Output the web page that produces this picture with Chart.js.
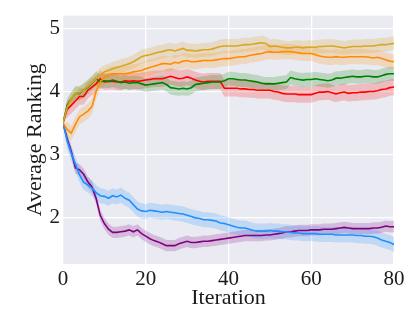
<!DOCTYPE html>
<html>
<head>
<meta charset="utf-8">
<script src="https://cdn.jsdelivr.net/npm/chart.js@4.4.0/dist/chart.umd.min.js"></script>
<style>
  body { margin: 0; background: #fff; }
</style>
</head>
<body>
<canvas id="rankChart" width="415" height="312"></canvas>
<script>
// iteration index 0..80
var iterations = [];
for (var i = 0; i <= 80; i++) iterations.push(i);

var xTicks = [0, 20, 40, 60, 80];
var yTicks = [2, 3, 4, 5];

// mean ranking per method
var goldLine = [3.50, 3.75, 3.88, 3.97, 3.98, 4.02, 4.08, 4.14, 4.20, 4.26, 4.31, 4.33, 4.36, 4.38, 4.40, 4.42, 4.44, 4.47, 4.51, 4.55,
    4.57, 4.58, 4.60, 4.62, 4.63, 4.65, 4.66, 4.64, 4.66, 4.68, 4.65, 4.65, 4.64, 4.65, 4.66, 4.66, 4.67, 4.69, 4.71, 4.72,
    4.72, 4.72, 4.72, 4.73, 4.74, 4.74, 4.75, 4.76, 4.77, 4.76, 4.71, 4.72, 4.71, 4.70, 4.69, 4.69, 4.70, 4.70, 4.69, 4.70,
    4.70, 4.70, 4.71, 4.71, 4.72, 4.72, 4.71, 4.70, 4.69, 4.70, 4.71, 4.71, 4.71, 4.72, 4.72, 4.72, 4.73, 4.74, 4.74, 4.75, 4.76];
var orangeLine = [3.50, 3.40, 3.34, 3.48, 3.60, 3.64, 3.69, 3.76, 4.00, 4.15, 4.22, 4.26, 4.28, 4.28, 4.28, 4.28, 4.29, 4.31, 4.32, 4.33,
    4.36, 4.38, 4.40, 4.42, 4.44, 4.44, 4.43, 4.46, 4.45, 4.48, 4.49, 4.47, 4.47, 4.48, 4.49, 4.49, 4.49, 4.50, 4.51, 4.52,
    4.52, 4.53, 4.54, 4.55, 4.55, 4.57, 4.58, 4.59, 4.60, 4.62, 4.63, 4.62, 4.62, 4.63, 4.63, 4.63, 4.62, 4.61, 4.60, 4.60,
    4.60, 4.58, 4.56, 4.55, 4.54, 4.54, 4.55, 4.54, 4.54, 4.55, 4.55, 4.55, 4.55, 4.55, 4.54, 4.53, 4.54, 4.52, 4.50, 4.48, 4.47];
var greenLine = [3.50, 3.78, 3.88, 3.97, 3.97, 4.02, 4.07, 4.13, 4.20, 4.15, 4.17, 4.16, 4.18, 4.16, 4.14, 4.15, 4.13, 4.14, 4.14, 4.12,
    4.10, 4.11, 4.12, 4.13, 4.14, 4.11, 4.06, 4.05, 4.04, 4.05, 4.04, 4.06, 4.11, 4.12, 4.13, 4.14, 4.15, 4.15, 4.15, 4.17,
    4.20, 4.20, 4.19, 4.18, 4.18, 4.17, 4.16, 4.15, 4.13, 4.12, 4.12, 4.12, 4.13, 4.14, 4.15, 4.22, 4.20, 4.19, 4.18, 4.19,
    4.19, 4.20, 4.19, 4.18, 4.17, 4.18, 4.21, 4.21, 4.22, 4.23, 4.24, 4.23, 4.23, 4.24, 4.24, 4.23, 4.23, 4.25, 4.27, 4.28, 4.28];
var redLine = [3.50, 3.72, 3.78, 3.85, 3.92, 3.92, 4.02, 4.07, 4.12, 4.20, 4.15, 4.16, 4.16, 4.15, 4.15, 4.17, 4.16, 4.17, 4.16, 4.17,
    4.18, 4.19, 4.20, 4.20, 4.20, 4.22, 4.24, 4.22, 4.20, 4.21, 4.23, 4.21, 4.18, 4.16, 4.15, 4.16, 4.16, 4.16, 4.16, 4.05,
    4.05, 4.05, 4.05, 4.04, 4.04, 4.03, 4.03, 4.02, 4.02, 4.02, 4.02, 4.00, 3.99, 3.97, 3.96, 3.96, 3.96, 3.95, 3.95, 3.95,
    3.95, 3.97, 3.99, 3.99, 4.00, 3.98, 3.96, 3.98, 3.99, 3.97, 3.98, 3.98, 3.99, 3.99, 4.00, 4.00, 4.01, 4.03, 4.04, 4.06, 4.07];
var blueLine = [3.50, 3.22, 3.02, 2.85, 2.68, 2.56, 2.52, 2.47, 2.40, 2.35, 2.34, 2.31, 2.35, 2.33, 2.36, 2.31, 2.28, 2.21, 2.14, 2.11,
    2.10, 2.12, 2.11, 2.10, 2.09, 2.10, 2.09, 2.08, 2.07, 2.06, 2.04, 2.02, 2.00, 1.99, 1.97, 1.97, 1.96, 1.95, 1.92, 1.91,
    1.89, 1.87, 1.85, 1.84, 1.84, 1.82, 1.80, 1.79, 1.79, 1.79, 1.80, 1.79, 1.79, 1.78, 1.78, 1.77, 1.76, 1.76, 1.75, 1.75,
    1.75, 1.75, 1.74, 1.74, 1.74, 1.74, 1.73, 1.73, 1.73, 1.73, 1.73, 1.72, 1.72, 1.71, 1.71, 1.70, 1.68, 1.65, 1.63, 1.61, 1.58];
var purpleLine = [3.50, 3.25, 3.05, 2.79, 2.76, 2.69, 2.57, 2.49, 2.31, 2.04, 1.91, 1.82, 1.77, 1.77, 1.78, 1.79, 1.81, 1.78, 1.81, 1.75,
    1.71, 1.67, 1.64, 1.62, 1.59, 1.56, 1.56, 1.56, 1.59, 1.61, 1.63, 1.61, 1.61, 1.62, 1.63, 1.63, 1.64, 1.65, 1.66, 1.67,
    1.68, 1.69, 1.70, 1.71, 1.72, 1.72, 1.72, 1.72, 1.72, 1.73, 1.73, 1.74, 1.75, 1.76, 1.78, 1.78, 1.79, 1.80, 1.80, 1.80,
    1.81, 1.81, 1.81, 1.82, 1.82, 1.82, 1.83, 1.84, 1.85, 1.84, 1.83, 1.83, 1.83, 1.83, 1.83, 1.84, 1.84, 1.85, 1.87, 1.86, 1.86];

// half width of the shaded band round each line
var bandWidths = [0.11, 0.12, 0.11, 0.13, 0.12, 0.09];

var seriesList = [goldLine, orangeLine, greenLine, redLine, blueLine, purpleLine];
var lineColors = ['#DAA520', '#FF8C00', '#008000', '#FF0000', '#1E90FF', '#800080'];
var bandColors = ['rgba(218,165,32,0.22)', 'rgba(255,140,0,0.2)', 'rgba(0,128,0,0.2)',
                  'rgba(255,0,0,0.2)', 'rgba(30,144,255,0.2)', 'rgba(128,0,128,0.2)'];

function toPoints(values, shift) {
    return values.map(function (v, idx) {
        return { x: iterations[idx], y: v + (idx === 0 ? 0 : shift) };
    });
}

var datasets = [];
// bands first (upper, then lower filled to upper)
seriesList.forEach(function (values, k) {
    var upperIndex = datasets.length;
    datasets.push({
        data: toPoints(values, bandWidths[k]),
        borderWidth: 0, pointRadius: 0, fill: false, order: 2
    });
    datasets.push({
        data: toPoints(values, -bandWidths[k]),
        borderWidth: 0, pointRadius: 0, fill: upperIndex,
        backgroundColor: bandColors[k], order: 2
    });
});
// lines on top
seriesList.forEach(function (values, k) {
    datasets.push({
        data: toPoints(values, 0),
        borderColor: lineColors[k], borderWidth: 1.6,
        pointRadius: 0, fill: false, tension: 0, order: 0
    });
});

// seaborn like grey background
var plotBackground = {
    id: 'plotBackground',
    beforeDraw: function (chart) {
        var a = chart.chartArea;
        var ctx = chart.ctx;
        ctx.save();
        ctx.fillStyle = '#EAEAF2';
        ctx.fillRect(a.left, a.top, a.right - a.left, a.bottom - a.top);
        ctx.restore();
    }
};

Chart.defaults.font.family = '"Liberation Serif", "Times New Roman", serif';
Chart.defaults.color = '#1a1a1a';

var ctx = document.getElementById('rankChart').getContext('2d');
var rankChart = new Chart(ctx, {
    type: 'line',
    data: { datasets: datasets },
    plugins: [plotBackground],
    options: {
        responsive: false,
        animation: false,
        layout: { padding: { top: 15, right: 21, left: 0, bottom: 0 } },
        plugins: {
            legend: { display: false },
            tooltip: { enabled: false }
        },
        scales: {
            x: {
                type: 'linear',
                min: 0, max: 80,
                afterBuildTicks: function (scale) {
                    scale.ticks = xTicks.map(function (v) { return { value: v }; });
                },
                afterFit: function (scale) { scale.height = 48; },
                grid: { color: '#ffffff', lineWidth: 1.3, drawTicks: false },
                border: { display: false },
                ticks: { font: { size: 21 }, padding: 3, maxRotation: 0 },
                title: { display: true, text: 'Iteration', font: { size: 22 }, padding: { top: 0, bottom: 1 } }
            },
            y: {
                min: 1.27, max: 5.2,
                afterBuildTicks: function (scale) {
                    scale.ticks = yTicks.map(function (v) { return { value: v }; });
                },
                afterFit: function (scale) { scale.width = 63; },
                grid: { color: '#ffffff', lineWidth: 1.3, drawTicks: false },
                border: { display: false },
                ticks: { font: { size: 21 }, padding: 3 },
                title: { display: true, text: 'Average Ranking', font: { size: 22 }, padding: { top: 22, bottom: 0 } }
            }
        }
    }
});
</script>
</body>
</html>
